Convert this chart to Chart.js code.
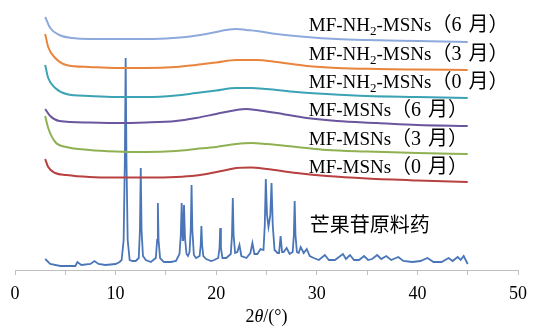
<!DOCTYPE html>
<html><head><meta charset="utf-8">
<script src="https://cdn.jsdelivr.net/npm/chart.js@4"></script>
<style>html,body{margin:0;padding:0;background:#fff}#wrap{width:535px;height:327px}</style>
</head><body><div id="wrap"><canvas id="c" width="535" height="327"></canvas></div>
<script>
// ---- data (intensity in arbitrary, stacked units; x = 2θ in degrees) ----
const xTicks = [0, 10, 20, 30, 40, 50];

const nh2_6m = [[3.0,253],[3.5,242],[4.4,235],[5.7,232],[7.4,231],[10,231],[12,231],[15,231.5],[17,233],[19,236],[21,240],[22,241],[23,240],[24,239],[26,236],[29,233],[32,231],[35,230],[40,229],[45,228]];
const nh2_3m = [[3.0,236],[3.3,223],[4.0,212],[5.1,205],[7.4,203],[10,202],[13,202],[16,203],[18,205],[20,207.5],[22,210],[24,210],[26,208],[29,204],[32,202],[36,201],[40,200.5],[45,200]];
const nh2_0m = [[3.0,205],[3.3,192],[4.0,182],[5.1,176],[7.4,174],[10,173],[13,173],[16,174.5],[18,177],[20,179.5],[22,182],[23.5,182],[25,181],[28,178],[31,176],[35,174],[40,173],[45,172]];
const msn_6m = [[3.0,161],[3.5,154],[4.4,149],[7.4,147.5],[10,147],[13,147.5],[16,149],[18,152],[20,156],[22,160],[23,161],[24,160],[26,157],[29,152],[32,149],[36,147],[40,145],[45,144]];
const msn_3m = [[3.0,154],[3.3,142],[4.0,128],[5.1,123],[7.4,120],[10,118.5],[13,118],[16,119],[18,121],[20,123],[22,126],[23.5,127],[25,126],[28,123],[31,120],[35,118.5],[40,117],[45,116]];
const msn_0m = [[3.0,111],[3.3,103],[4.0,97],[5.1,95],[7.4,93],[10,92.5],[13,92.5],[16,93],[18,94.5],[19.5,97],[21,100],[22,102],[23.5,102.5],[25,101],[28,97],[31,94],[35,91.5],[40,89.5],[45,88]];
const mangiferin = [[3.0,11],[3.5,6],[4.5,4],[6.0,4],[6.2,8],[6.6,5],[7.5,6],[7.9,9],[8.3,6],[9.0,5],[10.0,6],[10.4,8],
  [10.6,10],[10.8,30],[10.92,110],[11.0,212],[11.08,110],[11.2,30],[11.4,10],[11.7,9],[12.0,9],
  [12.3,12],[12.42,40],[12.5,102],[12.58,40],[12.72,14],[13.0,10],[13.5,8],
  [14.0,12],[14.13,30],[14.2,67],[14.27,30],[14.42,12],[14.8,8],[15.5,8],[16.0,9],
  [16.35,16],[16.48,35],[16.57,67],[16.67,30],[16.72,30],[16.8,65],[16.9,32],[17.05,16],[17.2,14],
  [17.35,18],[17.47,40],[17.55,85],[17.63,40],[17.78,15],[18.0,12],
  [18.35,14],[18.46,25],[18.53,44],[18.6,25],[18.72,14],[19.0,11],[19.5,9],[19.8,10],
  [20.2,12],[20.33,22],[20.4,42],[20.47,22],[20.62,12],[21.0,12],
  [21.45,16],[21.57,35],[21.65,72],[21.73,35],[21.88,17],[22.1,18],[22.31,25],[22.5,14],[23.0,12],[23.4,17],[23.6,27],[23.8,16],
  [24.1,16],[24.4,21],[24.7,20],[24.83,45],[24.93,91],[25.05,55],[25.2,43],[25.38,55],[25.5,87],[25.62,45],[25.8,20],[26.1,17],
  [26.25,17],[26.4,34],[26.55,18],[26.7,18],[27.0,22],[27.3,16],[27.6,18],[27.72,35],[27.8,69],[27.88,35],[28.02,18],[28.2,17],[28.4,23],[28.7,17],[29.0,21],[29.3,14],
  [29.7,12],[30.2,10],[30.8,15],[31.2,10],[31.8,10],[32.6,16],[32.9,11],[33.3,15],[33.7,10],[34.2,10],[34.7,14],[35.1,10],[35.5,11],[36.0,15],[36.4,11],[36.9,14],[37.4,10],[38.1,13],[38.6,9],
  [39.5,8],[40.3,9],[41.0,12],[41.6,8],[42.4,8],[43.1,12],[43.5,9],[44.0,13],[44.3,10],[44.6,14],[45.0,6]];

const seriesNames = ['MF-NH_2-MSNs（6 月）','MF-NH_2-MSNs（3 月）','MF-NH_2-MSNs（0 月）','MF-MSNs（6 月）','MF-MSNs（3 月）','MF-MSNs（0 月）','芒果苷原料药'];
const seriesData = [nh2_6m, nh2_3m, nh2_0m, msn_6m, msn_3m, msn_0m, mangiferin];
const seriesColors = ['#8EA9DB','#E8843C','#3BA3B5','#6B559E','#8FB152','#B84040','#4A76B8'];
const labelX = [29.2, 29.2, 29.2, 29.2, 29.2, 29.2, 29.3];
const labelY = [239, 210.5, 182, 154, 125.5, 97, 46];
const xTitle = [['2','normal'],['θ','italic'],['/(°)','normal']];

const LATIN = '"Liberation Serif", "Times New Roman", "Noto Sans CJK SC", serif';

const labelPlugin = {
  id: 'curveLabels',
  afterDraw(chart) {
    const {ctx, scales: {x, y}} = chart;
    ctx.save();
    ctx.fillStyle = '#000';
    ctx.textAlign = 'left';
    seriesNames.forEach((name, i) => {
      let px = x.getPixelForValue(labelX[i]);
      const py = y.getPixelForValue(labelY[i]);
      if (i === 6) {
        ctx.font = '20px "Noto Sans CJK SC"';
        ctx.textBaseline = 'middle';
        ctx.fillText(name, px, py);
        return;
      }
      ctx.textBaseline = 'alphabetic';
      const cut = name.indexOf('（');
      const latin = name.slice(0, cut), cjk = name.slice(cut);
      const parts = latin.split('_');
      parts.forEach((p, k) => {
        let txt = p;
        if (k > 0) {
          const sub = p.charAt(0);
          ctx.font = '13px ' + LATIN;
          ctx.fillText(sub, px, py + 4);
          px += ctx.measureText(sub).width;
          txt = p.slice(1);
        }
        ctx.font = '19px ' + LATIN;
        ctx.fillText(txt, px, py);
        px += ctx.measureText(txt).width;
      });
      ctx.font = '20px ' + LATIN;
      cjk.split(' ').forEach((seg, k) => {
        if (k > 0) px += 7;
        ctx.fillText(seg, px, py);
        px += ctx.measureText(seg).width;
      });
    });
    // x-axis title
    const cx = (chart.chartArea.left + chart.chartArea.right) / 2;
    let w = 0;
    xTitle.forEach(([t, s]) => { ctx.font = s + ' 18px ' + LATIN; w += ctx.measureText(t).width; });
    let tx = cx - w / 2;
    ctx.textBaseline = 'alphabetic';
    xTitle.forEach(([t, s]) => { ctx.font = s + ' 18px ' + LATIN; ctx.fillText(t, tx, 322); tx += ctx.measureText(t).width; });
    ctx.restore();
  }
};

new Chart(document.getElementById('c'), {
  type: 'line',
  data: {
    datasets: seriesData.map((d, i) => ({
      label: seriesNames[i],
      data: d.map(([a, b]) => ({x: a, y: b})),
      borderColor: seriesColors[i],
      backgroundColor: seriesColors[i],
      borderWidth: i === 6 ? 1.8 : 2,
      pointRadius: 0,
      tension: i === 6 ? 0 : 0.4,
      cubicInterpolationMode: i === 6 ? 'default' : 'monotone',
      fill: false
    }))
  },
  options: {
    responsive: false,
    animation: false,
    devicePixelRatio: 1,
    layout: {padding: {left: 15, right: 12, top: 0, bottom: 0}},
    plugins: {legend: {display: false}, tooltip: {enabled: false}},
    scales: {
      x: {
        type: 'linear', min: 0, max: 50,
        afterFit(s) { s.height = 57; },
        ticks: {
          stepSize: 5, autoSkip: false, maxRotation: 0, padding: 8,
          color: '#000', font: {family: LATIN, size: 18},
          callback: v => xTicks.includes(v) ? String(v) : ''
        },
        grid: {drawOnChartArea: false, drawTicks: true, tickLength: 5, color: '#BFBFBF', lineWidth: 1},
        border: {display: true, color: '#BFBFBF', width: 1}
      },
      y: {display: false, min: 0, max: 270}
    }
  },
  plugins: [labelPlugin]
});
</script></body></html>
